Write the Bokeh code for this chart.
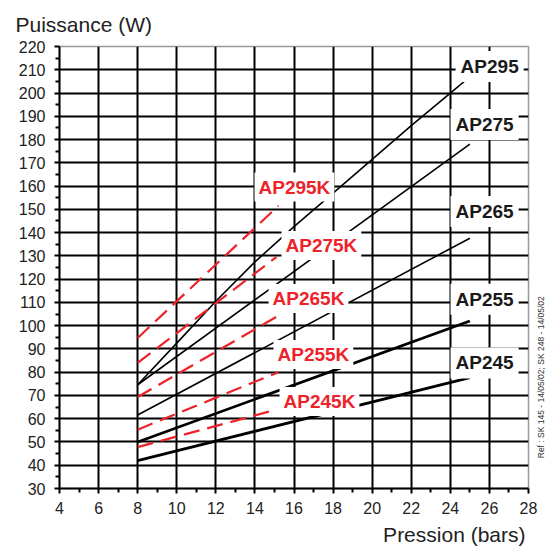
import math
from bokeh.plotting import figure
from bokeh.models import Label, FixedTicker, Range1d, Title, LinearAxis
from bokeh.embed import file_html
from bokeh.resources import INLINE

# ---- data ----
x_ticks = list(range(4, 29, 2))
y_ticks = list(range(30, 221, 10))

ap295_x = [8, 10, 12, 14, 16, 18, 20, 22, 24, 25]
ap295_y = [74.6, 92.5, 110.5, 127.4, 142.6, 157, 171.5, 186, 200, 207]
ap275_x = [8, 25]
ap275_y = [74.6, 178]
ap265_x = [8, 25]
ap265_y = [61.6, 137.6]
ap255_x = [8, 25]
ap255_y = [50, 102]
ap245_x = [8, 25]
ap245_y = [42, 77.7]

ap295k_x = [8, 15.2]
ap295k_y = [94.7, 151.5]
ap275k_x = [8, 15.1]
ap275k_y = [84, 129.5]
ap265k_x = [8, 15.1]
ap265k_y = [69.3, 103.8]
ap255k_x = [8, 15.2]
ap255k_y = [55.3, 80]
ap245k_x = [8, 15.1]
ap245k_y = [47.8, 63.9]

black_names = ["AP295", "AP275", "AP265", "AP255", "AP245"]
black_label_x = [24.27, 24.01, 24.01, 24.01, 24.01]
black_label_y = [211.4, 186.5, 149.1, 111.3, 84]
red_names = ["AP295K", "AP275K", "AP265K", "AP255K", "AP245K"]
red_label_x = [13.98, 15.36, 14.70, 14.95, 15.26]
red_label_y = [159.6, 134.5, 111.7, 87.6, 67.4]

ref_text = "Ref : SK 145 - 14/05/02; SK 248 - 14/05/02"
ref_pos = 43

FONT = "Liberation Sans"
RED = "#EE2229"

p = figure(width=559, height=549, x_range=Range1d(4, 28), y_range=Range1d(30, 220),
           output_backend="svg", toolbar_location=None,
           min_border_left=59, min_border_right=31, min_border_top=46, min_border_bottom=61)
p.background_fill_color = "white"
p.border_fill_color = "white"
p.outline_line_color = "#999999"
p.outline_line_width = 1.5

# axes
for ax in (p.xaxis[0], p.yaxis[0]):
    ax.axis_line_color = "black"
    ax.axis_line_width = 2
    ax.major_tick_line_color = "black"
    ax.major_tick_line_width = 2
    ax.minor_tick_line_color = "black"
    ax.minor_tick_line_width = 2
    ax.major_tick_in = 0
    ax.major_tick_out = 5
    ax.minor_tick_in = 0
    ax.minor_tick_out = 4
    ax.major_label_text_font = FONT
    ax.major_label_text_font_size = "16px"
    ax.major_label_text_color = "#222222"
p.xaxis.ticker = FixedTicker(ticks=x_ticks, minor_ticks=list(range(5, 28, 2)))
p.yaxis.ticker = FixedTicker(ticks=y_ticks, minor_ticks=list(range(35, 220, 10)))
p.xaxis.major_label_standoff = 8
p.yaxis.major_label_standoff = 9

# right-side reference note (drawn as a rotated tick label)
ref_axis = LinearAxis(ticker=FixedTicker(ticks=[ref_pos]),
                      major_label_overrides={ref_pos: ref_text})
ref_axis.axis_line_color = None
ref_axis.major_tick_line_color = None
ref_axis.minor_tick_line_color = None
ref_axis.major_label_orientation = math.pi / 2
ref_axis.major_label_standoff = 7
ref_axis.major_label_text_font = FONT
ref_axis.major_label_text_font_size = "8.5px"
ref_axis.major_label_text_color = "#333333"
p.add_layout(ref_axis, "right")

# grid
p.xgrid.ticker = FixedTicker(ticks=x_ticks[1:-1])
p.ygrid.ticker = FixedTicker(ticks=y_ticks[1:-1])
for g in (p.xgrid[0], p.ygrid[0]):
    g.grid_line_color = "black"
    g.grid_line_width = 2
    g.grid_line_alpha = 1

# black curves
p.line(ap295_x, ap295_y, line_color="black", line_width=1.6)
p.line(ap275_x, ap275_y, line_color="black", line_width=1.6)
p.line(ap265_x, ap265_y, line_color="black", line_width=1.6)
p.line(ap255_x, ap255_y, line_color="black", line_width=2.8)
p.line(ap245_x, ap245_y, line_color="black", line_width=2.8)

# red dashed curves
for xs, ys in [(ap295k_x, ap295k_y), (ap275k_x, ap275k_y), (ap265k_x, ap265k_y),
               (ap255k_x, ap255k_y), (ap245k_x, ap245k_y)]:
    p.line(xs, ys, line_color=RED, line_width=2.2, line_dash="16 8")

# curve labels
for name, lx, ly in zip(black_names, black_label_x, black_label_y):
    p.add_layout(Label(x=lx, y=ly, text=name, text_font=FONT, text_font_size="19px",
                       text_font_style="bold", text_color="#1a1a1a",
                       text_align="left", text_baseline="middle",
                       background_fill_color="white", padding=5))
for name, lx, ly in zip(red_names, red_label_x, red_label_y):
    p.add_layout(Label(x=lx, y=ly, text=name, text_font=FONT, text_font_size="19px",
                       text_font_style="bold", text_color=RED,
                       text_align="left", text_baseline="middle",
                       background_fill_color="white", padding=4))

# axis titles
p.add_layout(Title(text="Puissance (W)", align="left", offset=-44, standoff=21,
                   text_font=FONT, text_font_size="21px", text_font_style="normal",
                   text_color="#222222"), "above")
p.add_layout(Title(text="Pression (bars)", align="right", offset=3, standoff=8,
                   text_font=FONT, text_font_size="21px", text_font_style="normal",
                   text_color="#222222"), "below")

open("out.html", "w").write(file_html(p, INLINE))
